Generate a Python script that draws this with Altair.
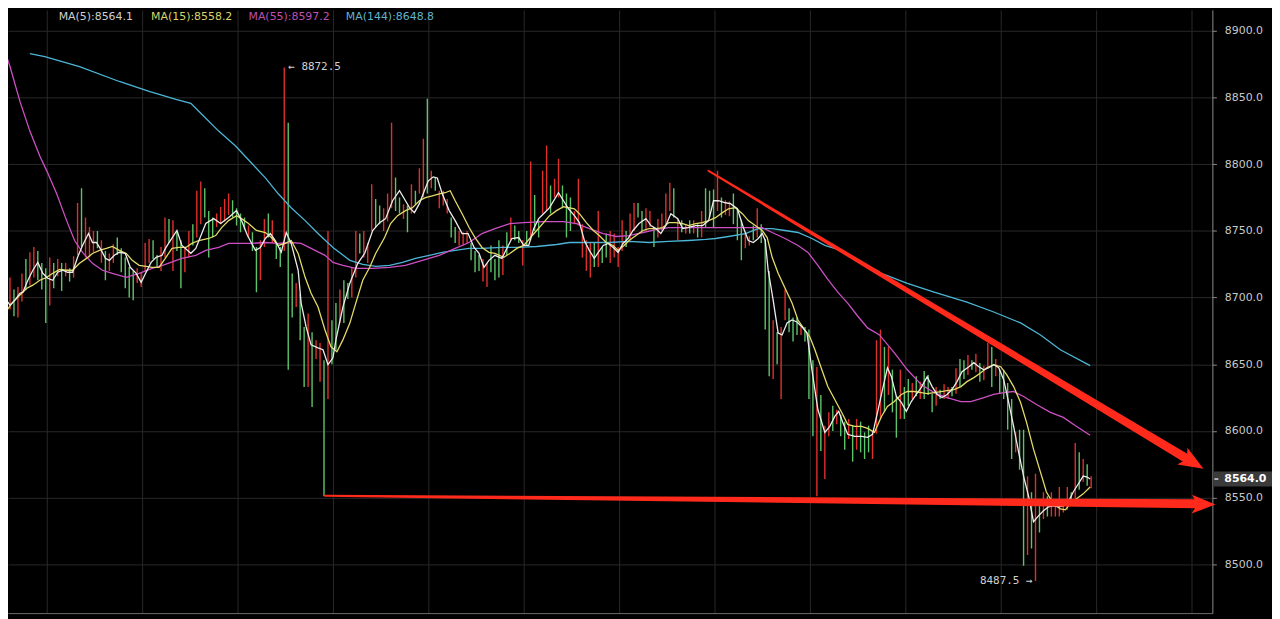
import altair as alt
import pandas as pd

# ---------------- candle data (index, high, low, direction G=up R=down) -------------
highs = [
    8711, 8698, 8715, 8706, 8708, 8718, 8729, 8734, 8738, 8735,
    8726, 8722, 8730, 8726, 8729, 8726, 8726, 8722, 8731, 8771,
    8782, 8760, 8753, 8750, 8750, 8743, 8735, 8733, 8740, 8745,
    8737, 8730, 8723, 8720, 8722, 8719, 8741, 8744, 8743, 8732,
    8738, 8760, 8759, 8758, 8750, 8743, 8738, 8750, 8755, 8780,
    8787, 8782, 8765, 8760, 8763, 8768, 8774, 8778, 8773, 8767,
    8763, 8760, 8754, 8749, 8738, 8743, 8759, 8763, 8758, 8741,
    8738, 8872.5, 8831, 8718, 8711, 8703, 8678, 8688, 8674, 8668,
    8666, 8653, 8750, 8683, 8696, 8706, 8713, 8711, 8723, 8750,
    8748, 8750, 8741, 8785, 8774, 8769, 8767, 8778, 8831, 8790,
    8775, 8770, 8769, 8785, 8780, 8797, 8819, 8849, 8795, 8790,
    8780, 8780, 8774, 8760, 8753, 8750, 8749, 8750, 8741, 8735,
    8732, 8729, 8726, 8739, 8729, 8743, 8739, 8749, 8760, 8754,
    8750, 8743, 8750, 8802, 8777, 8758, 8795, 8814, 8784, 8789,
    8804, 8784, 8778, 8775, 8765, 8789, 8755, 8743, 8741, 8741,
    8765, 8738, 8748, 8750, 8748, 8738, 8758, 8750, 8763, 8771,
    8771, 8765, 8767, 8765, 8753, 8759, 8763, 8778, 8786, 8782,
    8759, 8758, 8755, 8758, 8758, 8755, 8765, 8782, 8780, 8781,
    8795, 8775, 8773, 8772, 8778, 8767, 8758, 8748, 8746, 8754,
    8767, 8755, 8744, 8720, 8683, 8674, 8678, 8706, 8692, 8685,
    8685, 8678, 8678, 8676, 8653, 8648, 8627, 8604, 8614, 8619,
    8616, 8612, 8607, 8609, 8604, 8609, 8607, 8599, 8604, 8600,
    8668, 8676, 8663, 8663, 8646, 8626, 8646, 8633, 8639, 8636,
    8641, 8637, 8645, 8642, 8628, 8633, 8631, 8635, 8633, 8633,
    8647, 8654, 8653, 8657, 8653, 8658, 8651, 8649, 8666, 8663,
    8654, 8646, 8646, 8636, 8624, 8599, 8601, 8601, 8566, 8554,
    8568, 8549, 8554, 8551, 8554, 8547, 8558, 8547, 8558, 8554,
    8591, 8584, 8579, 8575, 8566,
]
lows = [
    8681, 8682, 8691, 8686, 8685, 8697, 8706, 8709, 8715, 8713,
    8706, 8681, 8694, 8707, 8716, 8705, 8716, 8712, 8715, 8732,
    8738, 8730, 8730, 8734, 8737, 8726, 8713, 8720, 8726, 8732,
    8719, 8707, 8700, 8698, 8711, 8708, 8719, 8726, 8729, 8723,
    8720, 8730, 8741, 8720, 8735, 8707, 8719, 8730, 8739, 8745,
    8755, 8760, 8730, 8745, 8753, 8755, 8757, 8762, 8760, 8754,
    8749, 8751, 8745, 8735, 8704, 8713, 8738, 8745, 8741, 8729,
    8723, 8735, 8646, 8685, 8693, 8668, 8633, 8633, 8618, 8654,
    8637, 8551, 8624, 8650, 8661, 8681, 8681, 8699, 8700, 8715,
    8733, 8730, 8726, 8750, 8753, 8755, 8750, 8757, 8767, 8765,
    8763, 8759, 8749, 8763, 8770, 8778, 8775, 8778, 8782, 8780,
    8767, 8769, 8763, 8745, 8741, 8739, 8739, 8741, 8728, 8719,
    8720, 8712, 8708, 8719, 8713, 8715, 8717, 8732, 8743, 8743,
    8741, 8724, 8739, 8743, 8750, 8745, 8763, 8765, 8763, 8775,
    8775, 8767, 8745, 8750, 8755, 8754, 8730, 8720, 8715, 8723,
    8723, 8726, 8730, 8726, 8730, 8723, 8735, 8738, 8743, 8750,
    8760, 8750, 8750, 8753, 8738, 8745, 8750, 8755, 8765, 8760,
    8743, 8749, 8748, 8748, 8748, 8745, 8745, 8753, 8760, 8753,
    8765, 8760, 8762, 8761, 8755, 8743, 8728, 8737, 8739, 8743,
    8745, 8741, 8676, 8641, 8639, 8650, 8624, 8683, 8674, 8667,
    8672, 8672, 8667, 8624, 8596, 8551, 8585, 8564, 8596, 8600,
    8605, 8596, 8586, 8594, 8577, 8586, 8584, 8579, 8584, 8579,
    8598, 8609, 8614, 8627, 8614, 8595, 8609, 8609, 8619, 8624,
    8626, 8624, 8624, 8627, 8614, 8619, 8624, 8624, 8624, 8626,
    8628, 8633, 8639, 8642, 8646, 8644, 8637, 8638, 8648, 8633,
    8641, 8628, 8624, 8601, 8579, 8584, 8571, 8499, 8507, 8512,
    8487.5, 8524, 8534, 8536, 8536, 8536, 8536, 8539, 8541, 8544,
    8544, 8556, 8562, 8559, 8557,
]
dirs = (
    "GRRGRRGRRG" "GGRGRGRGRR" "GRRRGRGRRG" "GGGGRRRRGG" "RRGRGGRRGR"
    "RGGGRRRRGG" "GGRGGRRGRG" "GRGGRGGRGR" "RGRGGRGGRR" "GRRRGGRRRG"
    "GRGRGRRGRG" "RRRGGRRRGG" "GRRGGGRGRG" "GRGRGGRRGR" "RGGGRRRRRG"
    "RGGRRRRGRR" "GGRRGRRRRG" "RGRGRGRGGG" "RGRRGGGRRG" "RGGGRGRRGG"
    "GRGGGRGRRG" "RGGRGRGGGR" "RRGRGGRGGR" "GRGGGRGRRG" "RGGRGRGRRG"
    "RGGGGRGGRG" "RGRGRRRRRG" "RGRGR"
)

# ---------------- moving averages (candle index, price) ----------------
ma5_t = [-0.5, 0.75, 2, 3.25, 4.5, 5.25, 6.5, 7.75, 9, 10.25,
         11.5, 12.75, 14, 15.25, 16.5, 17.75, 19, 20.25, 21.75, 22.75,
         23.75, 25, 26, 27, 28.25, 29.5, 31, 32.25, 33.75, 35,
         36.25, 37.5, 38.75, 40.25, 41.25, 44, 45.25, 47.5, 48.75, 51.25,
         53.25, 55, 57, 59, 60.25, 61.75, 63.75, 65, 66.25, 67.5,
         68.75, 70.25, 71.5, 72.75, 74.5, 75.25, 76.5, 77.75, 79.5, 80.75,
         82, 83.25, 84, 85.75, 87.5, 89.5, 91.25, 93.25, 95, 96.5,
         98.25, 100, 101.5, 102.5, 103.75, 105, 106.25, 107.25, 108.5, 109.5,
         110.75, 112.5, 114, 115.75, 117.25, 118.75, 120, 121.25, 122.5, 124,
         125.75, 128.25, 130, 131.25, 132.5, 133.75, 135, 136.25, 137.75, 140,
         141.25, 142.5, 144, 145.25, 146.5, 147.75, 149, 150, 151.25, 152.5,
         153.75, 155, 156.25, 157.5, 158.75, 160.25, 162, 163.25, 164.5, 165.75,
         167, 168.25, 170, 171.25, 172.5, 174.5, 176.25, 177.75, 179, 180.25,
         182, 183.25, 185, 186.5, 187.75, 189, 190.25, 191.25, 192, 192.75,
         194, 195.25, 196.25, 197.5, 198.75, 200, 201.25, 202.5, 203.75, 205.25,
         207, 208.25, 209.5, 210.5, 211.5, 212.75, 214.5, 216.25, 217.75, 219,
         220.25, 221.5, 222.75, 223.75, 225, 226.25, 227.5, 228.75, 230, 231.25,
         232.75, 234, 235.25, 236.5, 237.75, 239, 240.25, 241.5, 243.25, 244.5,
         245.75, 247, 248.25, 249.5, 250.75, 252, 253.25, 254.5, 255.75, 257,
         258.25, 259.5, 260.75, 262, 263.25, 264.5, 265.75, 267, 268.25, 269.5,
         270.75, 272, 273, 273.75]
ma5_v = [8698.1, 8699.6, 8694.4, 8698.1, 8703.3, 8704.1, 8713.0, 8720.5, 8726.4, 8718.2,
         8714.5, 8713.0, 8719.0, 8720.5, 8719.0, 8719.0, 8730.2, 8739.1, 8748.0, 8741.3,
         8741.3, 8735.4, 8729.4, 8727.9, 8731.7, 8734.0, 8733.2, 8722.7, 8718.2, 8711.5,
         8719.0, 8726.4, 8730.2, 8731.7, 8737.6, 8750.3, 8739.1, 8733.2, 8736.9, 8755.5,
         8759.2, 8755.5, 8760.0, 8765.2, 8757.7, 8746.5, 8735.4, 8737.6, 8744.3, 8748.0,
         8742.8, 8734.0, 8748.8, 8740.6, 8720.5, 8695.9, 8678.0, 8664.6, 8662.3, 8660.9,
         8649.7, 8654.9, 8668.3, 8692.9, 8710.8, 8725.7, 8733.2, 8750.3, 8756.2, 8759.2,
         8772.6, 8780.1, 8772.6, 8767.4, 8763.7, 8770.4, 8780.1, 8787.5, 8790.5, 8789.7,
         8777.8, 8765.2, 8757.7, 8748.0, 8748.0, 8737.6, 8733.2, 8722.7, 8727.9, 8731.7,
         8729.4, 8744.3, 8745.0, 8739.1, 8739.1, 8751.7, 8759.2, 8762.9, 8767.4, 8778.6,
         8772.6, 8766.6, 8761.4, 8756.2, 8742.8, 8735.4, 8729.4, 8733.9, 8739.1, 8740.6,
         8737.6, 8733.9, 8740.6, 8744.3, 8750.3, 8755.5, 8759.2, 8754.0, 8751.7, 8748.0,
         8754.0, 8762.9, 8759.2, 8751.7, 8752.5, 8754.0, 8754.0, 8757.7, 8772.6, 8772.6,
         8771.1, 8770.4, 8766.6, 8752.5, 8742.8, 8741.3, 8744.3, 8748.0, 8742.8, 8720.5,
         8698.1, 8673.5, 8672.0, 8681.0, 8683.2, 8681.7, 8678.0, 8673.5, 8645.9, 8616.1,
         8599.0, 8603.5, 8610.9, 8614.7, 8606.5, 8597.5, 8596.0, 8596.0, 8595.3, 8597.5,
         8613.9, 8631.0, 8647.4, 8640.7, 8625.9, 8621.4, 8614.7, 8622.1, 8627.4, 8632.5,
         8640.7, 8633.3, 8627.4, 8625.1, 8627.4, 8631.1, 8637.0, 8644.5, 8648.2, 8651.2,
         8648.2, 8645.9, 8647.4, 8649.7, 8647.4, 8638.5, 8621.4, 8603.5, 8584.1, 8566.2,
         8551.3, 8532.0, 8536.4, 8540.2, 8543.1, 8543.9, 8543.1, 8543.9, 8546.9, 8554.3,
         8560.3, 8566.2, 8565.5, 8564.0]

ma15_t = [-0.5, 1.25, 2.75, 4.5, 6.25, 7.75, 9.5, 11.25, 12.75, 14.5,
          16.25, 17.75, 19.5, 21.25, 22.75, 24.5, 26.25, 27.75, 29.5, 31.25,
          32.75, 34.5, 36.25, 37.75, 39.5, 41.25, 42.75, 44.5, 46.25, 47.75,
          49.5, 52, 53.75, 55.25, 57, 59, 60.25, 62, 64, 66.25,
          67.75, 69.5, 71.25, 72.75, 74.5, 76.25, 77.75, 79.5, 81.25, 82.75,
          84.25, 85.75, 87.5, 89, 90.75, 92.5, 94, 96.25, 97.75, 99.5,
          101.5, 103.25, 105, 106.5, 108.25, 110, 111.5, 112.75, 114, 115.75,
          117.5, 119, 120.75, 122.5, 124, 126.25, 127.75, 129.5, 131.25, 132.75,
          134.5, 136.25, 137.75, 139.5, 141.25, 142.5, 144, 145.25, 147, 148.75,
          150.25, 152, 153.75, 155, 156.5, 157.75, 159.5, 161.25, 162.75, 164.5,
          166.25, 167.75, 169.5, 171.25, 172.75, 174.5, 176.25, 177.75, 179.5, 181.25,
          182.75, 184.5, 186.25, 187.75, 189.5, 191.25, 192.5, 193.75, 195.25, 197,
          198.75, 200.25, 202, 203.25, 204.5, 206.25, 207.75, 209.5, 211.25, 212.75,
          214.5, 216.25, 217.75, 219.5, 221.25, 222.75, 224.5, 226.25, 227.75, 229.5,
          231.25, 232.75, 234.5, 236.25, 237.75, 239.5, 241.25, 242.75, 244.5, 246.25,
          247.75, 249.5, 251.25, 252.75, 254.5, 256.25, 257.75, 259.5, 261.25, 262.75,
          264.5, 266.25, 267.5, 268.75, 270.25, 272, 273.75]
ma15_v = [8685.4, 8690.7, 8696.6, 8701.9, 8707.0, 8709.3, 8713.0, 8715.2, 8718.2, 8721.2,
          8720.5, 8720.5, 8725.7, 8729.4, 8733.1, 8735.4, 8736.9, 8738.3, 8735.4, 8733.1,
          8727.9, 8724.2, 8723.4, 8722.7, 8722.7, 8730.2, 8736.9, 8737.6, 8737.6, 8740.6,
          8742.8, 8744.3, 8746.5, 8752.5, 8757.7, 8761.4, 8759.2, 8755.5, 8750.3, 8748.8,
          8745.0, 8739.1, 8740.6, 8742.8, 8733.1, 8715.2, 8703.3, 8692.9, 8675.7, 8663.1,
          8659.4, 8668.3, 8680.9, 8695.9, 8713.0, 8722.7, 8733.1, 8745.0, 8755.5, 8761.4,
          8765.2, 8767.4, 8772.6, 8774.9, 8776.3, 8777.8, 8778.6, 8780.1, 8772.6, 8762.9,
          8752.5, 8745.0, 8737.6, 8733.9, 8733.1, 8730.2, 8733.1, 8736.9, 8739.1, 8744.3,
          8750.3, 8756.2, 8761.4, 8765.2, 8768.1, 8767.4, 8766.6, 8762.9, 8756.2, 8750.3,
          8746.5, 8741.3, 8739.1, 8735.4, 8739.1, 8742.8, 8746.5, 8750.3, 8751.7, 8751.7,
          8752.5, 8756.2, 8756.2, 8755.5, 8754.0, 8755.5, 8756.2, 8757.7, 8759.9, 8763.7,
          8766.6, 8767.4, 8762.9, 8757.7, 8754.0, 8750.3, 8745.0, 8730.2, 8718.2, 8707.0,
          8695.9, 8683.2, 8675.7, 8670.5, 8660.9, 8645.9, 8633.3, 8623.6, 8613.9, 8605.0,
          8603.5, 8603.5, 8602.0, 8599.0, 8610.9, 8618.4, 8622.1, 8627.4, 8629.6, 8629.6,
          8628.8, 8628.1, 8628.8, 8629.6, 8630.3, 8631.1, 8633.3, 8637.0, 8640.0, 8643.7,
          8647.4, 8649.7, 8648.2, 8642.2, 8633.3, 8621.4, 8606.5, 8586.4, 8569.2, 8554.3,
          8545.4, 8541.7, 8540.9, 8545.4, 8549.1, 8552.9, 8558.0]

ma55_t = [-0.5, 2, 4.5, 7, 9.5, 11.25, 13.75, 16.25, 18.25, 20.25,
          22.75, 25.25, 27.75, 31.25, 34.5, 37.75, 40.75, 45.25, 48.75, 51.25,
          54.5, 57, 59.5, 62.75, 66.25, 69.5, 72.75, 75.25, 78.75, 81.25,
          83.25, 85.75, 89, 93.25, 97.5, 101.5, 105.75, 110, 114, 117.5,
          120.75, 124, 127.75, 131.25, 136.25, 141.25, 144.5, 147.75, 151.25, 154.5,
          157.75, 161.25, 164.5, 167.75, 171.25, 174.5, 179.5, 184.5, 189.5, 191.25,
          193.75, 197, 200.25, 202.75, 205.25, 207.75, 210.25, 212.75, 215.25, 217.75,
          220.75, 224.5, 227.75, 231.25, 234.5, 237.75, 241.25, 243.75, 247, 249.5,
          252, 254.5, 257, 260.25, 263.75, 267, 270.25, 273.75]
ma55_v = [8895.5, 8873.2, 8847.1, 8824.8, 8806.1, 8795.0, 8777.8, 8757.7, 8742.8, 8733.9,
          8725.7, 8720.5, 8718.2, 8715.2, 8718.2, 8721.9, 8724.5, 8729.4, 8731.7, 8735.4,
          8737.6, 8740.6, 8740.6, 8740.6, 8741.3, 8740.6, 8741.3, 8740.6, 8735.4, 8731.7,
          8726.4, 8724.2, 8721.9, 8721.9, 8722.7, 8724.2, 8727.9, 8731.7, 8736.9, 8741.3,
          8748.0, 8751.7, 8755.5, 8756.2, 8757.0, 8757.0, 8755.5, 8751.7, 8748.0, 8745.8,
          8746.5, 8748.8, 8751.0, 8752.5, 8752.5, 8752.5, 8752.5, 8752.5, 8752.5, 8752.5,
          8748.8, 8744.3, 8739.1, 8733.9, 8724.2, 8713.7, 8704.1, 8695.9, 8686.2, 8677.3,
          8672.0, 8658.6, 8645.9, 8634.8, 8628.8, 8625.1, 8622.1, 8622.1, 8625.1, 8627.4,
          8628.8, 8629.6, 8625.9, 8619.9, 8614.0, 8610.2, 8603.5, 8596.8]

ma144_t = [7, 10.75, 19.5, 29.5, 37, 43.75, 47.5, 50.25, 54.5, 58.75,
           62.75, 66.25, 69.5, 72.75, 76.25, 79.5, 83.25, 87.5, 90.75, 94,
           97.5, 100.75, 104, 107.5, 110.75, 114, 117.5, 120.75, 125.75, 129.5,
           134.5, 139.5, 142.75, 147.75, 152.75, 157.75, 162.75, 167.75, 172.75, 177,
           179.5, 182.75, 187, 190.25, 193.75, 197, 200.25, 203.75, 207, 210.25,
           214.5, 221.25, 227.75, 234.5, 242.75, 249.5, 256.25, 261.25, 266.25, 273.75]
ma144_v = [8882.9, 8880.6, 8873.2, 8862.0, 8854.6, 8848.6, 8845.6, 8837.4, 8824.8, 8813.6,
           8800.9, 8789.7, 8777.8, 8767.4, 8757.7, 8748.0, 8737.6, 8727.9, 8724.9, 8723.4,
           8724.2, 8726.4, 8729.4, 8731.7, 8733.9, 8735.4, 8736.9, 8736.9, 8737.6, 8737.6,
           8738.3, 8739.8, 8741.3, 8741.3, 8741.3, 8742.1, 8741.3, 8742.1, 8742.8, 8743.6,
           8744.3, 8745.8, 8748.0, 8751.7, 8751.7, 8750.3, 8748.8, 8744.3, 8739.1, 8736.1,
           8729.4, 8718.2, 8710.7, 8704.1, 8696.6, 8689.2, 8681.0, 8672.0, 8660.9, 8649.0]

legend_labels = ["MA(5):8564.1", "MA(15):8558.2", "MA(55):8597.2", "MA(144):8648.8"]

# hand-drawn red arrows (start / end of the shaft, in candle index & price)
arrow_id = ["down", "down", "flat", "flat"]
arrow_t = [177.75, 298.25, 81.25, 300.75]
arrow_v = [8795.0, 8578.9, 8551.4, 8545.4]
arrow_w = [2, 9, 2, 9]
head_t = [299.6, 302.3]
head_v = [8576.4, 8545.0]

price_ticks = [8500, 8550, 8600, 8650, 8700, 8750, 8800, 8850, 8900]
time_ticks = [11.25, 35.25, 59.25, 83.25, 107.25, 131.25, 155.25, 179.25,
              203.25, 227.25, 251.25, 275.25, 299.25]
last_price = 8564.0
high_mark = (71, 8872.5)
low_mark = (260, 8487.5)

# ---------------- chart ----------------
W, H = 1212, 607
RED = "#ff2a1c"
GREEN_C = "#5ec46b"
RED_C = "#e0302c"
XS = alt.Scale(domain=[1.5, 304.5], nice=False, zero=False)
YS = alt.Scale(domain=[8463.5, 8915.64], nice=False, zero=False)
XA = alt.Axis(values=time_ticks, grid=True, labels=False, ticks=False,
              domain=True, domainColor="#6b6b6b", title=None, gridColor="#282828")
YA = alt.Axis(orient="right", values=price_ticks, format=".1f", title=None,
              grid=True, gridColor="#282828", domainColor="#8c8c8c",
              tickColor="#8c8c8c", tickSize=4, labelPadding=8,
              labelColor="#c8c8c8", labelFont="DejaVu Sans", labelFontSize=11)


def X(field):
    return alt.X(field, scale=XS, axis=XA)


def Y(field):
    return alt.Y(field, scale=YS, axis=YA)


cdf = pd.DataFrame({"t": list(range(len(highs))), "high": highs, "low": lows,
                    "dir": list(dirs)})

candle_layer = alt.Chart(cdf).mark_rule(strokeWidth=1.4, clip=True).encode(
    x=X("t:Q"),
    y=Y("high:Q"),
    y2="low:Q",
    color=alt.Color("dir:N", scale=alt.Scale(domain=["G", "R"], range=[GREEN_C, RED_C]),
                    legend=None),
)

layers = [candle_layer]
for ts, vs, col in [(ma144_t, ma144_v, "#4cb5d6"), (ma55_t, ma55_v, "#cc4fc3"),
                    (ma15_t, ma15_v, "#e3db68"), (ma5_t, ma5_v, "#ececec")]:
    df = pd.DataFrame({"t": ts, "v": vs})
    layers.append(
        alt.Chart(df).mark_line(color=col, strokeWidth=1.3, clip=True).encode(
            x=X("t:Q"), y=Y("v:Q"),
        )
    )

adf = pd.DataFrame({"id": arrow_id, "t": arrow_t, "v": arrow_v, "w": arrow_w})
layers.append(
    alt.Chart(adf).mark_trail(color=RED).encode(
        x=X("t:Q"), y=Y("v:Q"),
        size=alt.Size("w:Q", scale=None, legend=None),
        detail="id:N",
    )
)
ARROW_PATH = "M1,0 L-1,-0.8 L-0.55,0 L-1,0.8 Z"
for ht, hv, ang, sz in zip(head_t, head_v, [31, 1], [620, 560]):
    hdf = pd.DataFrame({"t": [ht], "v": [hv]})
    layers.append(
        alt.Chart(hdf).mark_point(shape=ARROW_PATH, size=sz, filled=True, color=RED,
                                  opacity=1, strokeWidth=0, angle=ang).encode(
            x=X("t:Q"), y=Y("v:Q"),
        )
    )

hdf = pd.DataFrame({"t": [high_mark[0]], "v": [high_mark[1]],
                    "label": ["\u2190 " + f"{high_mark[1]:.1f}"]})
layers.append(
    alt.Chart(hdf).mark_text(align="left", baseline="middle", dx=4,
                             font="DejaVu Sans Mono", fontSize=11, color="#d0d0d0").encode(
        x=X("t:Q"), y=Y("v:Q"), text="label:N")
)
ldf = pd.DataFrame({"t": [low_mark[0]], "v": [low_mark[1]],
                    "label": [f"{low_mark[1]:.1f}" + " \u2192"]})
layers.append(
    alt.Chart(ldf).mark_text(align="right", baseline="middle", dx=-3,
                             font="DejaVu Sans Mono", fontSize=11, color="#d0d0d0").encode(
        x=X("t:Q"), y=Y("v:Q"), text="label:N")
)

pdf = pd.DataFrame({"v": [last_price], "label": [f"{last_price:.1f}"]})
layers.append(
    alt.Chart(pdf).mark_rect(color="#3b3b3b", yOffset=-7.5, y2Offset=7.5).encode(
        x=alt.value(W + 1), x2=alt.value(W + 60),
        y=Y("v:Q"), y2="v:Q")
)
layers.append(
    alt.Chart(pdf).mark_rule(color="#ffffff", strokeWidth=1.2).encode(
        x=alt.value(W + 2), x2=alt.value(W + 6), y=Y("v:Q"))
)
layers.append(
    alt.Chart(pdf).mark_text(align="left", baseline="middle", font="DejaVu Sans",
                             fontSize=11, fontWeight="bold", color="#ffffff").encode(
        x=alt.value(W + 12), y=Y("v:Q"), text="label:N")
)

legend_x = [51, 144, 242, 340]
legend_colors = ["#cfcfcf", "#d9d36a", "#bd4fb4", "#5fb3cc"]
for lab, lx, lc in zip(legend_labels, legend_x, legend_colors):
    tdf = pd.DataFrame({"label": [lab]})
    layers.append(
        alt.Chart(tdf).mark_text(align="left", baseline="top", font="DejaVu Sans",
                                 fontSize=11, color=lc).encode(
            x=alt.value(lx), y=alt.value(1), text="label:N")
    )

chart = alt.layer(*layers).properties(
    width=W, height=H,
    padding={"left": 0, "top": 0, "right": 60, "bottom": 4},
    autosize=alt.AutoSizeParams(type="none"),
    background="#000000",
).configure_view(fill="#000000", stroke=None)

chart.save("out.html", embed_options={"renderer": "svg", "actions": False})
